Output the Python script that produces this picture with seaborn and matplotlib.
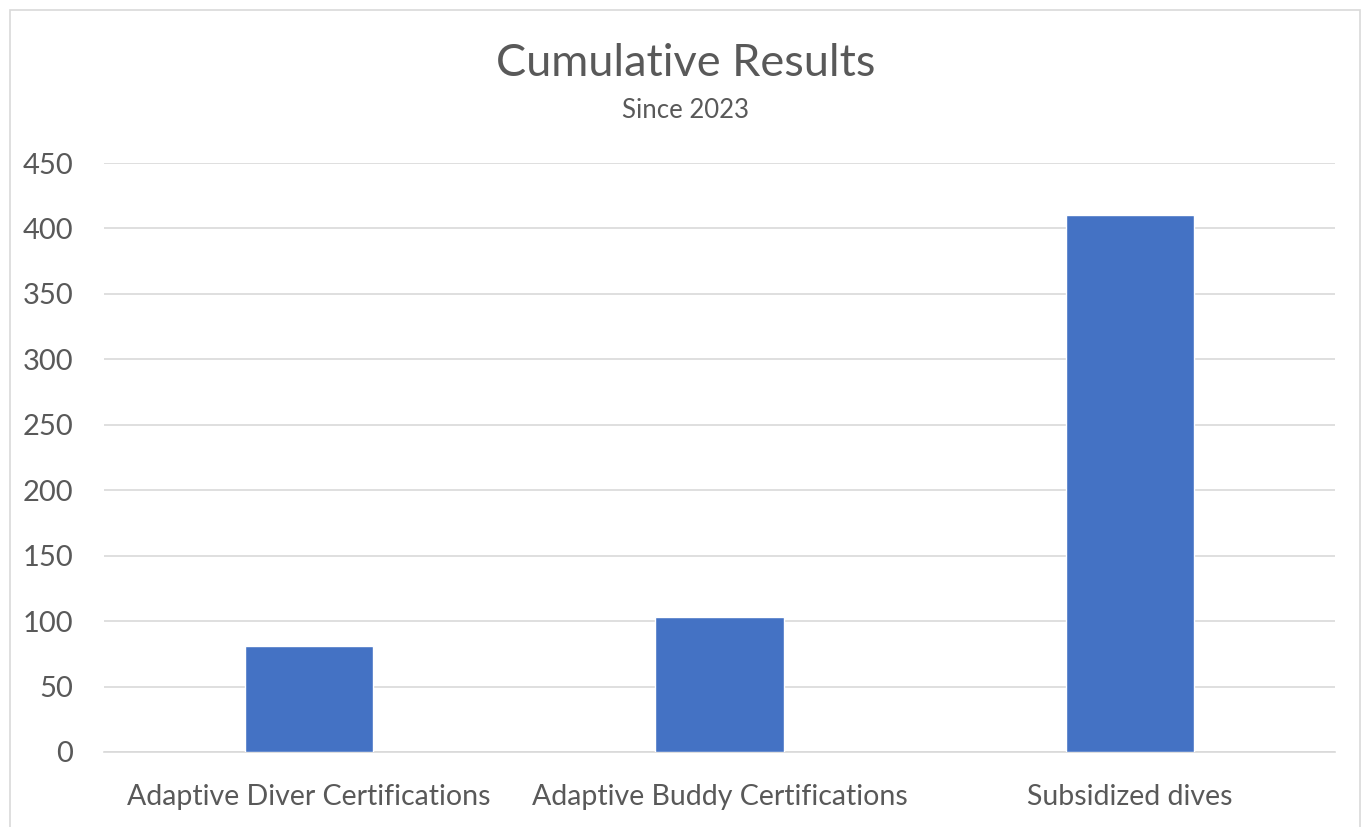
import matplotlib
matplotlib.use("Agg")
import matplotlib.pyplot as plt
import seaborn as sns
import pandas as pd
from matplotlib.patches import Rectangle

categories = ["Adaptive Diver Certifications", "Adaptive Buddy Certifications", "Subsidized dives"]
values = [81, 103, 410]
yticks = [0, 50, 100, 150, 200, 250, 300, 350, 400, 450]

sns.set_theme(style="white")
plt.rcParams['font.family'] = ['Lato', 'DejaVu Sans']

df = pd.DataFrame({"category": categories, "value": values})

fig = plt.figure(figsize=(13.71, 8.27), dpi=100)
ax = fig.add_axes([104/1371, 1 - 752/827, (1335-104)/1371, (752-163)/827])

sns.barplot(data=df, x="category", y="value", color="#4472C4", width=0.313,
            saturation=1, ax=ax, zorder=3)

ax.set_xlim(-0.5, 2.5)
ax.set_ylim(0, 450)
ax.set_yticks(yticks)
ax.set_yticklabels([str(t) for t in yticks])
ax.yaxis.grid(True, color="#D9D9D9", linewidth=1.2, zorder=0)
ax.set_axisbelow(True)
for s in ["top", "right", "left"]:
    ax.spines[s].set_visible(False)
ax.spines["bottom"].set_color("#D9D9D9")
ax.spines["bottom"].set_linewidth(1.2)
ax.tick_params(axis="y", length=0, labelsize=21, colors="#595959", pad=22)
ax.tick_params(axis="x", length=0, labelsize=20.5, colors="#595959", pad=23)
ax.set_xlabel("")
ax.set_ylabel("")

fig.text(0.5, 1 - 63/827, "Cumulative Results", ha="center", va="center",
         fontsize=32.5, color="#595959")
fig.text(0.5, 1 - 110/827, "Since 2023", ha="center", va="center",
         fontsize=18.5, color="#595959")

fig.patches.append(Rectangle((10/1371, -0.01), (1360-10)/1371, 1 - 10/827 + 0.01,
                             transform=fig.transFigure, fill=False,
                             edgecolor="#D9D9D9", linewidth=1.2))

fig.savefig("out.png", dpi=100)
